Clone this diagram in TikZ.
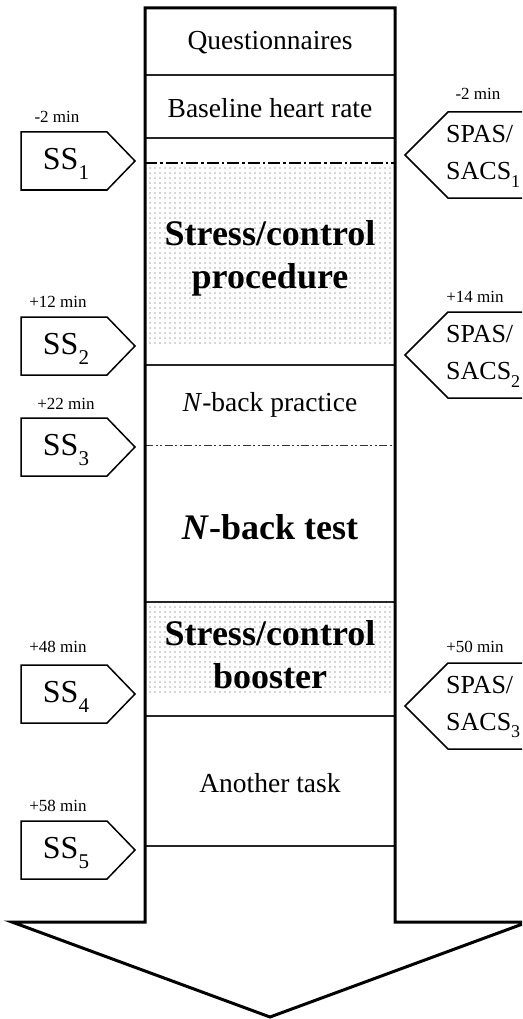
\documentclass[tikz,border=0pt]{standalone}
\usepackage{fontspec}
\setmainfont{Liberation Serif}
\newcommand\mysub[1]{\raisebox{-0.32em}{\fontsize{21}{21}\selectfont #1}}
\newcommand\rsub[1]{\raisebox{-0.3em}{\fontsize{18}{18}\selectfont #1}}
\begin{document}
\begin{tikzpicture}[x=1pt,y=-1pt,
  wall/.style={line width=3pt,line join=miter},
  sepline/.style={line width=1.1pt,black!85},
  boxline/.style={line width=1.5pt,line join=miter},
  coltext/.style={font=\fontsize{27.5}{30}\selectfont,inner sep=0pt},
  bigtext/.style={font=\fontsize{36}{43}\selectfont\bfseries,inner sep=0pt,align=center},
  timetext/.style={font=\fontsize{17}{19}\selectfont,inner sep=0pt},
  sstext/.style={font=\fontsize{32}{34}\selectfont,inner sep=0pt},
  spastext/.style={font=\fontsize{26}{37}\selectfont,inner sep=0pt,align=left,anchor=west},
  stipdot/.style={fill=black!70}
]
\useasboundingbox (0,0) rectangle (522,1019);
\clip (0,0) rectangle (522,1019);
% stippled areas
\foreach \x in {150,155,...,390}{
  \foreach \y in {168,173,...,345} \fill[stipdot] (\x,\y) circle (0.6);
  \foreach \y in {607,612,...,695} \fill[stipdot] (\x,\y) circle (0.6);
}
% separators
\coordinate (L1) at (145,75);  \coordinate (R1) at (395,75);
\coordinate (L2) at (145,138); \coordinate (R2) at (395,138);
\coordinate (L3) at (145,365); \coordinate (R3) at (395,365);
\coordinate (L4) at (145,602); \coordinate (R4) at (395,602);
\coordinate (L5) at (145,716); \coordinate (R5) at (395,716);
\coordinate (L6) at (145,846); \coordinate (R6) at (395,846);
\coordinate (LD1) at (145,163); \coordinate (RD1) at (395,163);
\coordinate (LD2) at (145,445); \coordinate (RD2) at (395,445);
\foreach \i in {1,...,6} \draw[sepline] (L\i) -- (R\i);
\draw[line width=2.2pt,dash pattern=on 12pt off 3pt on 2.5pt off 3pt] (LD1) -- (RD1);
\draw[line width=1pt,black!80,dash pattern=on 8pt off 2.5pt on 2pt off 2.5pt on 2pt off 2.5pt] (LD2) -- (RD2);
% column and arrow outline
\draw[wall] (145,8) -- (395,8) -- (395,922) -- (528,922) -- (270,1017) -- (12,922) -- (145,922) -- cycle;
% column texts
\node[coltext] (q) at (270,43) {Questionnaires};
\node[coltext] (b) at (270,108) {Baseline heart rate};
\node[bigtext] (sp) at (270,258) {Stress/control\\procedure};
\node[coltext] (np) at (270,405) {\textit{N}-back practice};
\node[bigtext] (nt) at (270,527) {\textit{N}-back test};
\node[bigtext] (sb) at (270,655) {Stress/control\\booster};
\node[coltext] (at) at (270,783) {Another task};
% left pentagons
\foreach \n/\cy/\lx/\ly/\lab in {1/161/57/117/{-2 min},2/346/58/302/{+12 min},3/447/66/404/{+22 min},4/694/58/647/{+48 min},5/850/58/806/{+58 min}}{
  \draw[boxline] (21,\cy-29) -- (107,\cy-29) -- (135,\cy) -- (107,\cy+29) -- (21,\cy+29) -- cycle;
  \node[sstext] (ss\n) at (66,\cy+3) {SS\mysub{\n}};
  \node[timetext] (tl\n) at (\lx,\ly) {\lab};
}
% right pentagons
\foreach \n/\cy/\lx/\ly/\lab in {1/155/478/94/{-2 min},2/355/475/297/{+14 min},3/706/475/647/{+50 min}}{
  \draw[boxline] (540,\cy-43) -- (448,\cy-43) -- (405,\cy) -- (448,\cy+43) -- (540,\cy+43);
  \node[spastext] (sa\n) at (446,\cy+1) {SPAS/\\SACS\rsub{\n}};
  \node[timetext] (tr\n) at (\lx,\ly) {\lab};
}
\end{tikzpicture}
\end{document}
